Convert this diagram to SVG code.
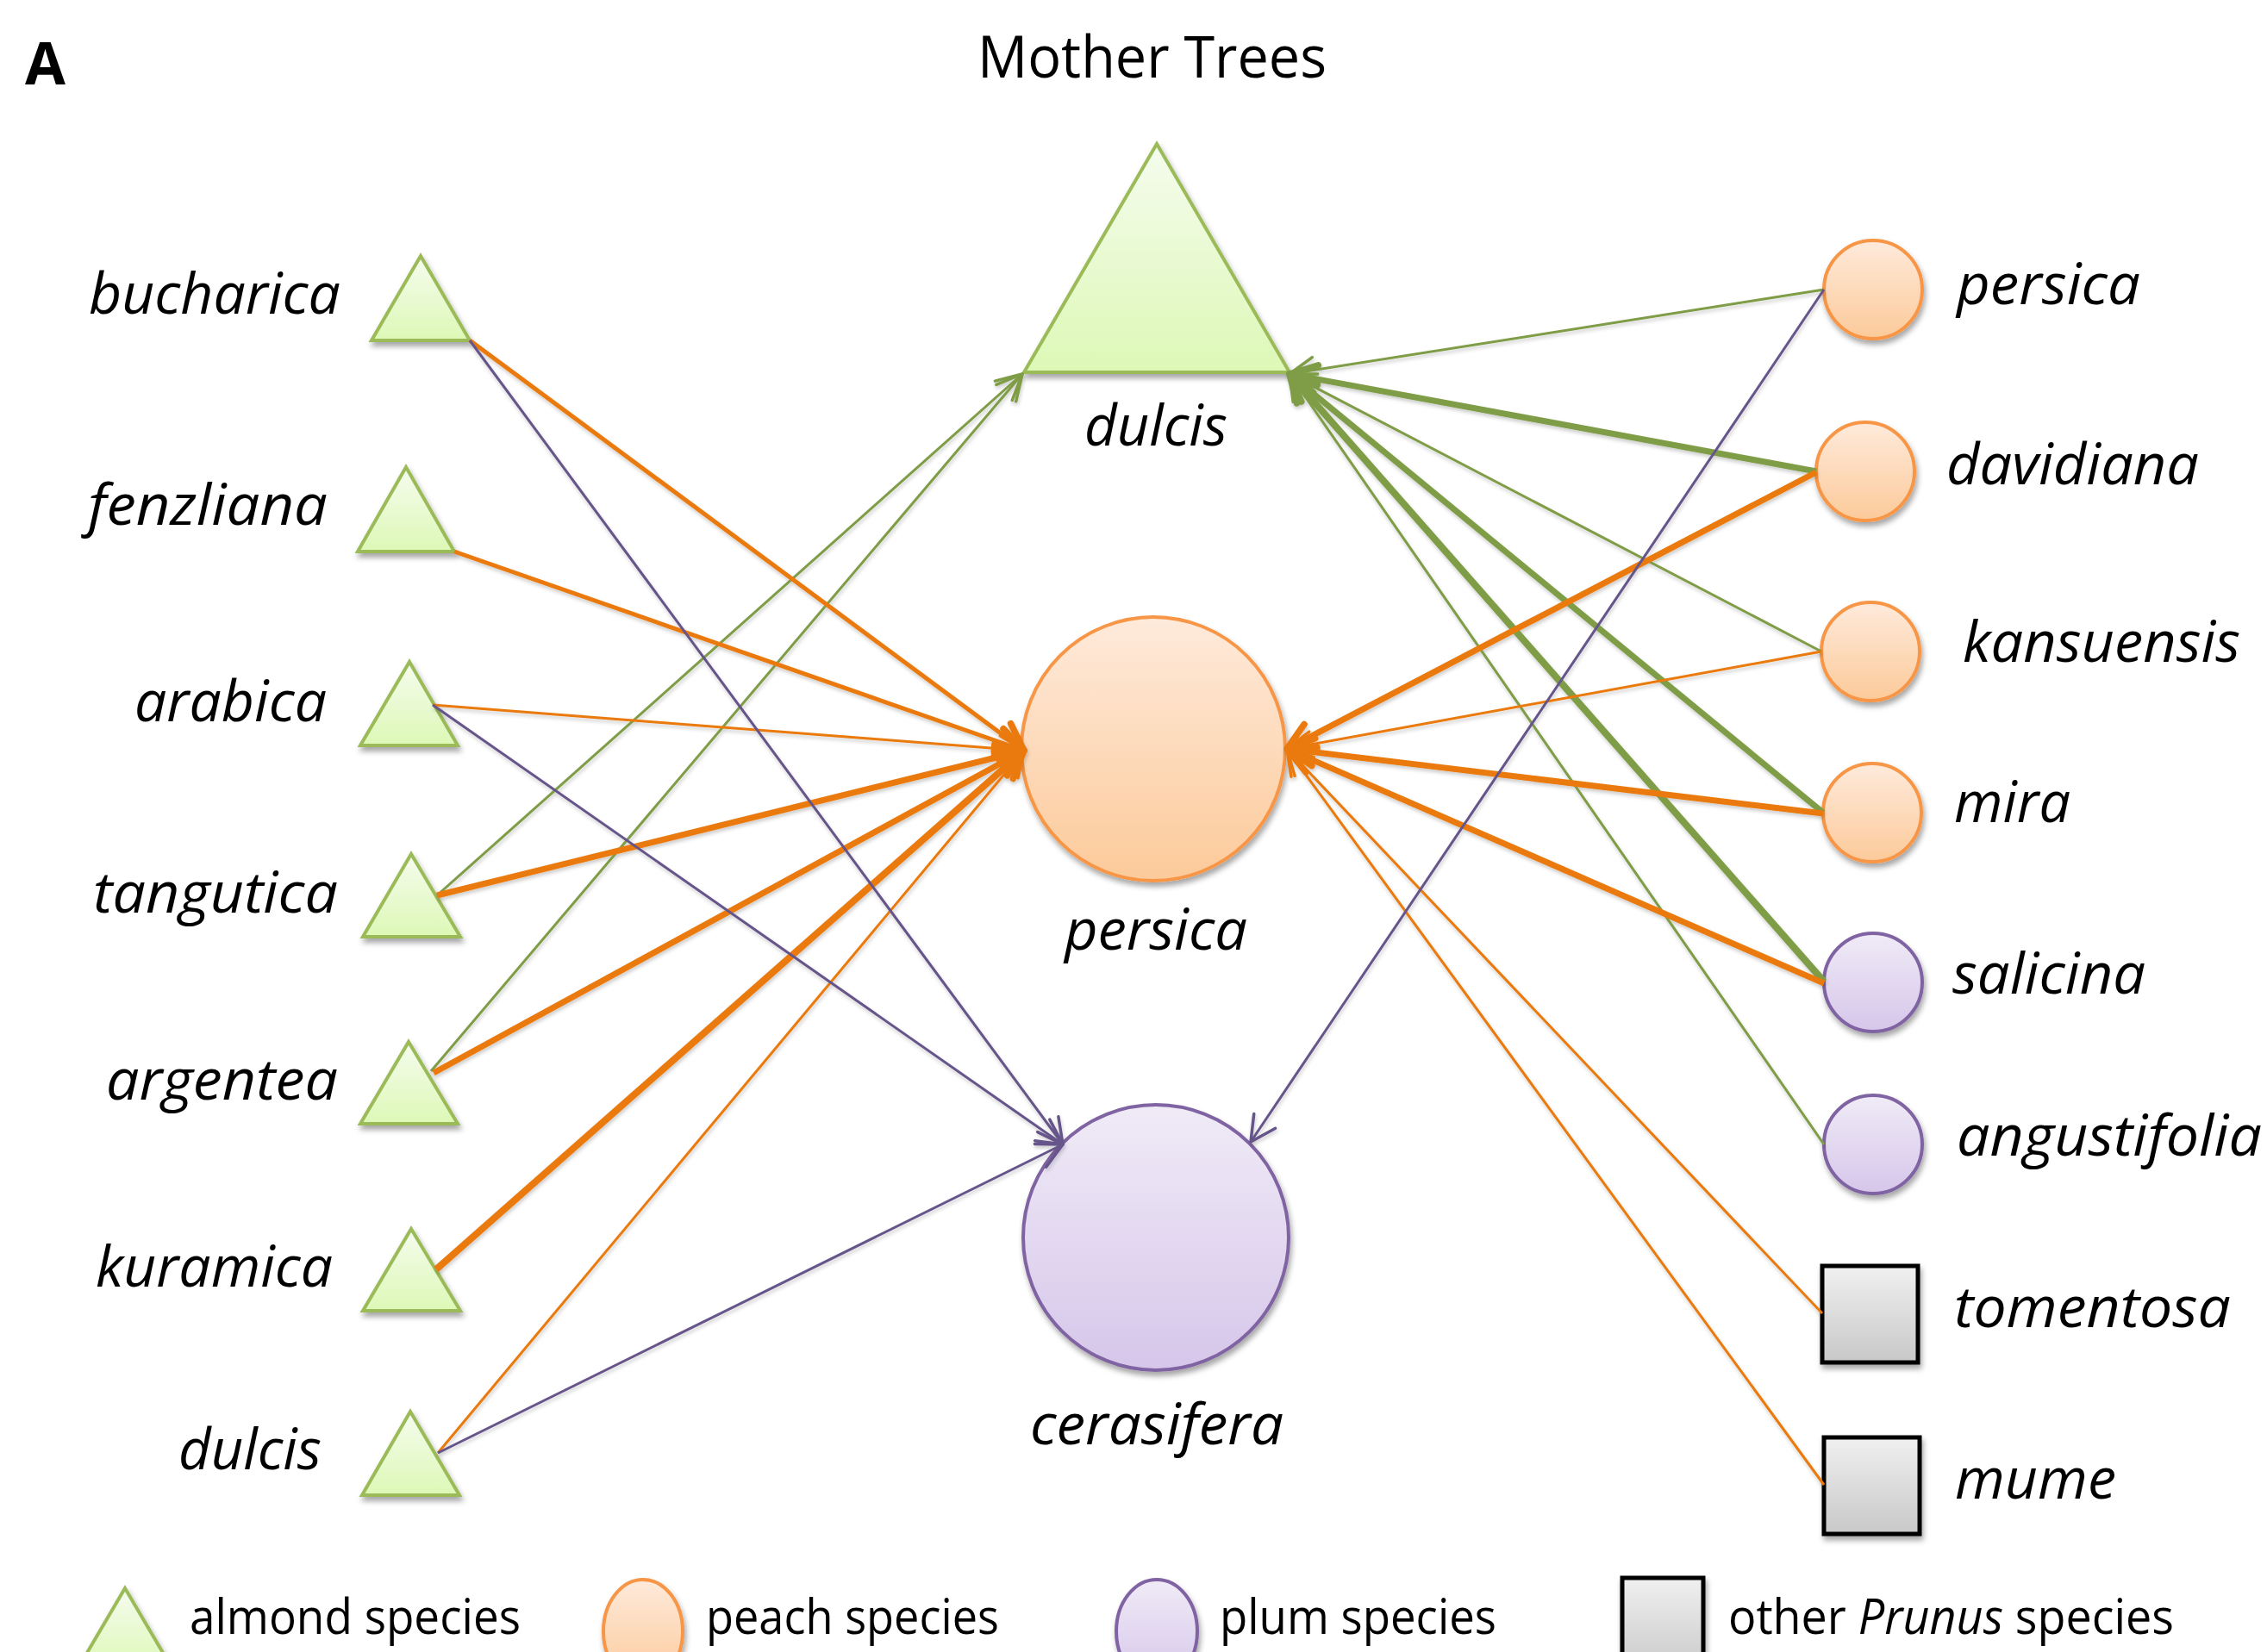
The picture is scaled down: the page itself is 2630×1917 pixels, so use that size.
<svg xmlns="http://www.w3.org/2000/svg" width="2630" height="1917" viewBox="0 0 2630 1917">
<style>
.lbl{font-family:"Open Sans","Noto Sans","Liberation Sans",sans-serif;font-style:italic;font-size:66px;fill:#000}
.leg{font-family:"Open Sans","Noto Sans","Liberation Sans",sans-serif;font-size:56px;fill:#000}
.tri{fill:url(#gTri);stroke:#9bbb59;stroke-width:4;stroke-linejoin:miter}
.peach{fill:url(#gPeach);stroke:#f79646;stroke-width:4}
.plum{fill:url(#gPlum);stroke:#8064a2;stroke-width:4}
.sq{fill:url(#gSq);stroke:#000;stroke-width:5}
.g{stroke:#7f9c46;fill:none}
.o{stroke:#ea7a0c;fill:none}
.p{stroke:#66558a;fill:none}
.t1{stroke-width:3}
.t2{stroke-width:5}
.t3{stroke-width:7}
.t4{stroke-width:8}
</style>
<defs>
<linearGradient id="gTri" x1="0" y1="0" x2="0" y2="1"><stop offset="0" stop-color="#f5fcee"/><stop offset="1" stop-color="#ddf8b6"/></linearGradient>
<linearGradient id="gPeach" x1="0" y1="0" x2="0" y2="1"><stop offset="0" stop-color="#feeadb"/><stop offset="1" stop-color="#fcca9a"/></linearGradient>
<linearGradient id="gPlum" x1="0" y1="0" x2="0" y2="1"><stop offset="0" stop-color="#f0ebf7"/><stop offset="1" stop-color="#d6c6ea"/></linearGradient>
<linearGradient id="gSq" x1="0" y1="0" x2="0" y2="1"><stop offset="0" stop-color="#f0f0f0"/><stop offset="1" stop-color="#c8c8c8"/></linearGradient>
<filter id="sh" x="-20%" y="-20%" width="150%" height="150%"><feDropShadow dx="2" dy="5" stdDeviation="3" flood-color="#000" flood-opacity="0.35"/></filter>
<filter id="lsh" x="-5%" y="-5%" width="110%" height="110%"><feDropShadow dx="1" dy="3" stdDeviation="2" flood-color="#000" flood-opacity="0.2"/></filter>
<marker id="aG1" markerUnits="userSpaceOnUse" markerWidth="40" markerHeight="40" viewBox="-35 -20 40 40" refX="0" refY="0" orient="auto" overflow="visible"><path d="M-29,-15 L0,0 L-29,15" fill="none" stroke="#7f9c46" stroke-width="3.5" stroke-linecap="round" stroke-linejoin="round"/></marker>
<marker id="aG2" markerUnits="userSpaceOnUse" markerWidth="40" markerHeight="40" viewBox="-35 -20 40 40" refX="0" refY="0" orient="auto" overflow="visible"><path d="M-31,-16 L0,0 L-31,16" fill="none" stroke="#7f9c46" stroke-width="7.5" stroke-linecap="round" stroke-linejoin="round"/></marker>
<marker id="aO1" markerUnits="userSpaceOnUse" markerWidth="40" markerHeight="40" viewBox="-35 -20 40 40" refX="0" refY="0" orient="auto" overflow="visible"><path d="M-29,-15 L0,0 L-29,15" fill="none" stroke="#ea7a0c" stroke-width="3.5" stroke-linecap="round" stroke-linejoin="round"/></marker>
<marker id="aO2" markerUnits="userSpaceOnUse" markerWidth="40" markerHeight="40" viewBox="-35 -20 40 40" refX="0" refY="0" orient="auto" overflow="visible"><path d="M-31,-16 L0,0 L-31,16" fill="none" stroke="#ea7a0c" stroke-width="7.5" stroke-linecap="round" stroke-linejoin="round"/></marker>
<marker id="aP1" markerUnits="userSpaceOnUse" markerWidth="40" markerHeight="40" viewBox="-35 -20 40 40" refX="0" refY="0" orient="auto" overflow="visible"><path d="M-29,-15 L0,0 L-29,15" fill="none" stroke="#66558a" stroke-width="3.5" stroke-linecap="round" stroke-linejoin="round"/></marker>
</defs>
<rect width="2630" height="1917" fill="#fff"/>

<text x="29" y="98" font-family="'Open Sans','Liberation Sans',sans-serif" font-weight="bold" font-size="68">A</text>
<text x="1134" y="90" font-family="'Open Sans','Liberation Sans',sans-serif" font-size="67" textLength="405" lengthAdjust="spacingAndGlyphs">Mother Trees</text>

<!-- left nodes -->
<g id="n-bucharica"><polygon class="tri" filter="url(#sh)" points="488,297 545,395 431,395"/><text class="lbl" x="103" y="364" textLength="292" lengthAdjust="spacingAndGlyphs">bucharica</text></g>
<g id="n-fenzliana"><polygon class="tri" filter="url(#sh)" points="471,542 527,640 415,640"/><text class="lbl" x="102" y="609" textLength="278" lengthAdjust="spacingAndGlyphs">fenzliana</text></g>
<g id="n-arabica"><polygon class="tri" filter="url(#sh)" points="475,768 531,865 418,865"/><text class="lbl" x="156" y="837" textLength="223" lengthAdjust="spacingAndGlyphs">arabica</text></g>
<g id="n-tangutica"><polygon class="tri" filter="url(#sh)" points="477,991 534,1087 421,1087"/><text class="lbl" x="108" y="1059" textLength="284" lengthAdjust="spacingAndGlyphs">tangutica</text></g>
<g id="n-argentea"><polygon class="tri" filter="url(#sh)" points="474,1209 531,1304 418,1304"/><text class="lbl" x="123" y="1276" textLength="269" lengthAdjust="spacingAndGlyphs">argentea</text></g>
<g id="n-kuramica"><polygon class="tri" filter="url(#sh)" points="477,1426 534,1521 421,1521"/><text class="lbl" x="111" y="1493" textLength="275" lengthAdjust="spacingAndGlyphs">kuramica</text></g>
<g id="n-dulcisL"><polygon class="tri" filter="url(#sh)" points="476,1638 533,1735 420,1735"/><text class="lbl" x="207" y="1705" textLength="166" lengthAdjust="spacingAndGlyphs">dulcis</text></g>

<!-- center nodes -->
<g id="m-dulcis"><polygon class="tri" filter="url(#sh)" points="1342,167 1496,432 1188,432"/><text class="lbl" x="1258" y="517" textLength="166" lengthAdjust="spacingAndGlyphs">dulcis</text></g>
<g id="m-persica"><circle class="peach" filter="url(#sh)" cx="1338" cy="869" r="153"/><text class="lbl" x="1235" y="1102" textLength="212" lengthAdjust="spacingAndGlyphs">persica</text></g>
<g id="m-cerasifera"><circle class="plum" filter="url(#sh)" cx="1341" cy="1436" r="154"/><text class="lbl" x="1195" y="1676" textLength="294" lengthAdjust="spacingAndGlyphs">cerasifera</text></g>

<!-- right nodes -->
<g id="r-persica"><circle class="peach" filter="url(#sh)" cx="2173" cy="336" r="57"/><text class="lbl" x="2270" y="353" textLength="213" lengthAdjust="spacingAndGlyphs">persica</text></g>
<g id="r-davidiana"><circle class="peach" filter="url(#sh)" cx="2164" cy="547" r="57"/><text class="lbl" x="2258" y="562" textLength="293" lengthAdjust="spacingAndGlyphs">davidiana</text></g>
<g id="r-kansuensis"><circle class="peach" filter="url(#sh)" cx="2170" cy="756" r="57"/><text class="lbl" x="2277" y="768" textLength="322" lengthAdjust="spacingAndGlyphs">kansuensis</text></g>
<g id="r-mira"><circle class="peach" filter="url(#sh)" cx="2172" cy="943" r="57"/><text class="lbl" x="2267" y="954" textLength="135" lengthAdjust="spacingAndGlyphs">mira</text></g>
<g id="r-salicina"><circle class="plum" filter="url(#sh)" cx="2173" cy="1140" r="57"/><text class="lbl" x="2265" y="1153" textLength="224" lengthAdjust="spacingAndGlyphs">salicina</text></g>
<g id="r-angustifolia"><circle class="plum" filter="url(#sh)" cx="2173" cy="1328" r="57"/><text class="lbl" x="2270" y="1341" textLength="354" lengthAdjust="spacingAndGlyphs">angustifolia</text></g>
<g id="r-tomentosa"><rect class="sq" filter="url(#sh)" x="2114" y="1469" width="111" height="112"/><text class="lbl" x="2267" y="1540" textLength="321" lengthAdjust="spacingAndGlyphs">tomentosa</text></g>
<g id="r-mume"><rect class="sq" filter="url(#sh)" x="2116" y="1668" width="111" height="112"/><text class="lbl" x="2268" y="1739" textLength="187" lengthAdjust="spacingAndGlyphs">mume</text></g>

<!-- connectors -->
<g id="connectors" filter="url(#lsh)">
<!-- green to dulcis -->
<line class="g t1" x1="507" y1="1039" x2="1186" y2="434" marker-end="url(#aG1)"/>
<line class="g t1" x1="500" y1="1243" x2="1186" y2="434" marker-end="url(#aG1)"/>
<line class="g t1" x1="2116" y1="336" x2="1496" y2="434" marker-end="url(#aG1)"/>
<line class="g t3" x1="2107" y1="547" x2="1496" y2="434" marker-end="url(#aG2)"/>
<line class="g t1" x1="2113" y1="756" x2="1496" y2="434" marker-end="url(#aG1)"/>
<line class="g t3" x1="2115" y1="943" x2="1496" y2="434" marker-end="url(#aG2)"/>
<line class="g t4" x1="2116" y1="1139" x2="1496" y2="434" marker-end="url(#aG2)"/>
<line class="g t1" x1="2116" y1="1328" x2="1496" y2="434" marker-end="url(#aG1)"/>
<!-- orange to persica -->
<line class="o t2" x1="545" y1="395" x2="1188" y2="871" marker-end="url(#aO2)"/>
<line class="o t2" x1="527" y1="640" x2="1188" y2="871" marker-end="url(#aO2)"/>
<line class="o t1" x1="502" y1="818" x2="1188" y2="871" marker-end="url(#aO1)"/>
<line class="o t3" x1="507" y1="1039" x2="1188" y2="871" marker-end="url(#aO2)"/>
<line class="o t3" x1="503" y1="1245" x2="1188" y2="871" marker-end="url(#aO2)"/>
<line class="o t4" x1="506" y1="1473" x2="1188" y2="871" marker-end="url(#aO2)"/>
<line class="o t1" x1="508" y1="1686" x2="1188" y2="871" marker-end="url(#aO1)"/>
<line class="o t3" x1="2107" y1="548" x2="1493" y2="869" marker-end="url(#aO2)"/>
<line class="o t1" x1="2113" y1="756" x2="1493" y2="869" marker-end="url(#aO1)"/>
<line class="o t3" x1="2115" y1="944" x2="1493" y2="869" marker-end="url(#aO2)"/>
<line class="o t3" x1="2116" y1="1141" x2="1493" y2="869" marker-end="url(#aO2)"/>
<line class="o t1" x1="2114" y1="1524" x2="1493" y2="869" marker-end="url(#aO1)"/>
<line class="o t1" x1="2116" y1="1723" x2="1493" y2="869" marker-end="url(#aO1)"/>
<!-- purple to cerasifera -->
<line class="p t1" x1="545" y1="395" x2="1233" y2="1328" marker-end="url(#aP1)"/>
<line class="p t1" x1="502" y1="818" x2="1233" y2="1328" marker-end="url(#aP1)"/>
<line class="p t1" x1="508" y1="1686" x2="1233" y2="1328" marker-end="url(#aP1)"/>
<line class="p t1" x1="2116" y1="336" x2="1451" y2="1325" marker-end="url(#aP1)"/>
</g>

<!-- legend -->
<g id="legend">
<polygon class="tri" filter="url(#sh)" points="145,1843 202,1940 88,1940"/>
<text class="leg" x="220" y="1896" textLength="384" lengthAdjust="spacingAndGlyphs">almond species</text>
<ellipse class="peach" filter="url(#sh)" cx="746" cy="1893" rx="46" ry="60"/>
<text class="leg" x="819" y="1896" textLength="340" lengthAdjust="spacingAndGlyphs">peach species</text>
<ellipse class="plum" filter="url(#sh)" cx="1342" cy="1893" rx="47" ry="60"/>
<text class="leg" x="1415" y="1896" textLength="321" lengthAdjust="spacingAndGlyphs">plum species</text>
<rect class="sq" filter="url(#sh)" x="1882" y="1831" width="94" height="112"/>
<text class="leg" x="2005" y="1896" textLength="517" lengthAdjust="spacingAndGlyphs">other <tspan font-style="italic">Prunus</tspan> species</text>
</g>
</svg>
